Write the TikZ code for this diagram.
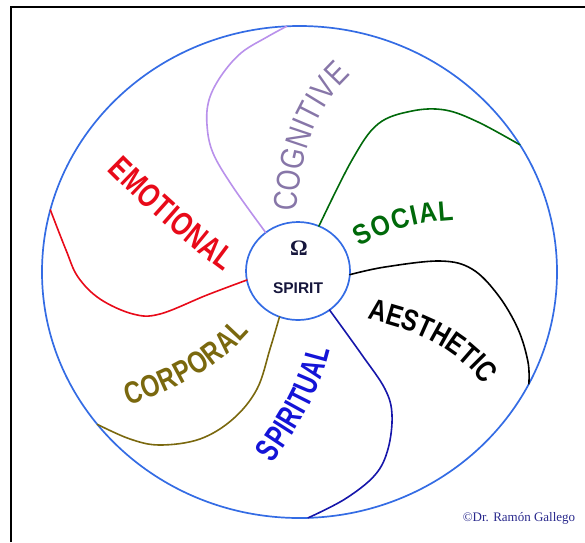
\documentclass[tikz,border=0pt]{standalone}
\usepackage{fontspec}
\setmainfont{Liberation Serif}
\newfontfamily\cogfont[FakeStretch=0.82]{Liberation Sans}
\newfontfamily\emofont[FakeStretch=0.76]{Liberation Sans Bold}
\newfontfamily\socfont[FakeStretch=0.88]{Liberation Sans Bold}
\newfontfamily\aesfont[FakeStretch=0.8]{Liberation Sans Bold}
\newfontfamily\corfont[FakeStretch=0.78]{Liberation Sans Bold}
\newfontfamily\spifont[FakeStretch=0.7]{Liberation Sans Bold}
\newfontfamily\centerfont{Liberation Sans Bold}
\usetikzlibrary{shapes.geometric,decorations.text}
\definecolor{ringblue}{RGB}{52,108,228}
\definecolor{coglinec}{RGB}{185,145,235}
\definecolor{cogtext}{RGB}{135,118,168}
\definecolor{emored}{RGB}{232,10,25}
\definecolor{socgreen}{RGB}{0,105,10}
\definecolor{spiblue}{RGB}{20,20,215}
\definecolor{spiline}{RGB}{22,22,170}
\definecolor{corolive}{RGB}{122,104,14}
\definecolor{navy}{RGB}{22,22,60}
\definecolor{copyblue}{RGB}{40,40,140}
\begin{document}
\begin{tikzpicture}[x=1pt,y=-1pt,
  ring/.style={ellipse, draw=ringblue, line width=1.7, inner sep=0, outer sep=0},
  spoke/.style={line width=1.6, line join=round, line cap=round},
  word/.style={decorate, decoration={text along path, text align={fit to path}, text={#1}}}]
\useasboundingbox (0,0) rectangle (585,542);
\draw[line width=2] (10.5,542) -- (10.5,7) -- (585,7);
\node[ring, minimum width=515, minimum height=492] (outer) at (299.5,272) {};
\node[ring, minimum width=104, minimum height=98] (spirit) at (298,271) {};
\node[text=navy, inner sep=0] (omega) at (299,248) {\fontsize{22}{22}\selectfont\bfseries Ω};
\node[text=navy, inner sep=0] (spiritlabel) at (298,288) {\centerfont\fontsize{15.5}{16}\selectfont SPIRIT};
% spokes
\draw[spoke, coglinec] plot[smooth, tension=0.6] coordinates {(spirit.130) (233,187) (213,153) (207,125) (209,100) (221,76) (241,53) (267,37) (outer.93)};
\draw[spoke, socgreen] plot[smooth, tension=0.6] coordinates {(spirit.65) (352,160) (378,124) (412,111) (445,110) (478,122) (outer.30.5)};
\draw[spoke, black] plot[smooth, tension=0.6] coordinates {(spirit.-4) (385,267) (440,261) (472,269) (498,295) (518,329) (528,362) (outer.-26)};
\draw[spoke, spiline] plot[smooth, tension=0.6] coordinates {(spirit.-51) (362,355) (385,389) (392,415) (388,449) (375,475) (345,499) (outer.-88.7)};
\draw[spoke, corolive] plot[smooth, tension=0.6] coordinates {(spirit.-112) (270,349) (257,389) (233,419) (200,439) (160,445) (130,439) (outer.217.6)};
\draw[spoke, emored] plot[smooth, tension=0.6] coordinates {(outer.166.3) (66,250) (78,277) (100,299) (133,314) (160,314) (207,295) (spirit.190)};
% words
\path[word={|\cogfont\fontsize{33}{33}\selectfont\color{cogtext}|COGNITIVE}] (297,212) .. controls (300,150) and (318,105) .. (351,75);
\path[word={|\socfont\fontsize{28}{28}\selectfont\color{socgreen}|SOCIAL}] (360,247) .. controls (385,232) and (415,222) .. (454,220);
\path[word={|\aesfont\fontsize{30}{30}\selectfont\color{black}|AESTHETIC}] (367,319) .. controls (410,329) and (452,343) .. (484,385);
\path[word={|\emofont\fontsize{33}{33}\selectfont\color{emored}|EMOTIONAL}] (107,170) .. controls (140,203) and (180,240) .. (224,272);
\path[word={|\corfont\fontsize{31}{31}\selectfont\color{corolive}|CORPORAL}] (128,405) .. controls (170,392) and (215,372) .. (250,332);
\path[word={|\spifont\fontsize{33}{33}\selectfont\color{spiblue}|SPIRITUAL}] (273,463) .. controls (292,435) and (318,400) .. (330,350);
\node[text=copyblue, inner sep=0] (copyright) at (519,518) {\fontsize{13}{13}\selectfont ©Dr. Ramón Gallego};
\end{tikzpicture}
\end{document}
